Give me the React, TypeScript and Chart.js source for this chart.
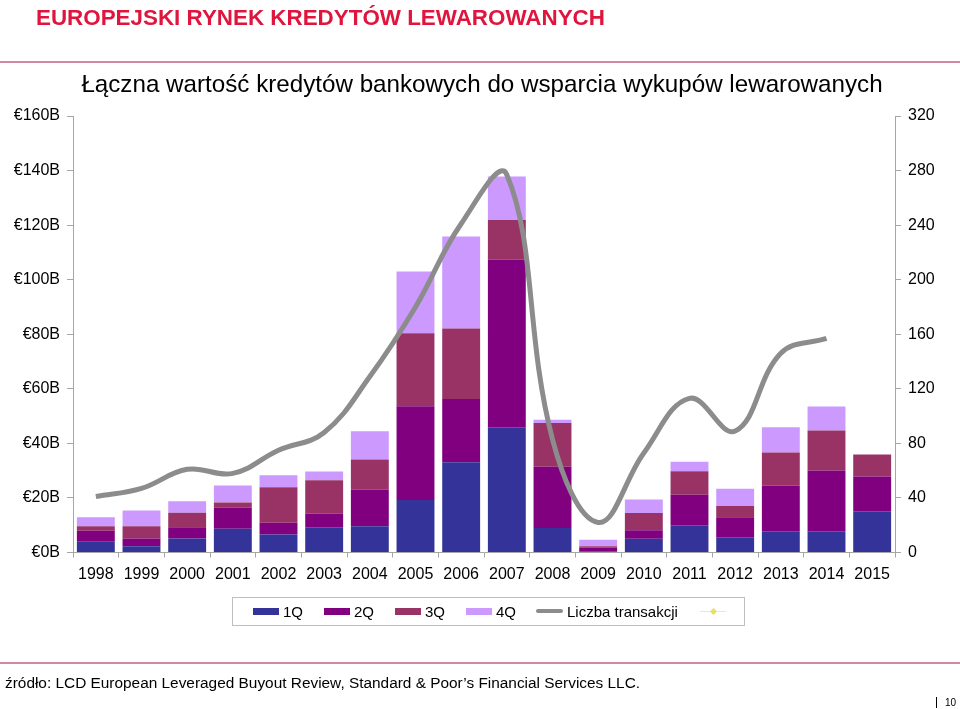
import React, { useEffect, useRef } from "react";
import { Chart, registerables } from "chart.js";

Chart.register(...registerables);

const years = ["1998","1999","2000","2001","2002","2003","2004","2005","2006","2007","2008","2009","2010","2011","2012","2013","2014","2015"];
const q1 = [3.9, 2.3, 5.1, 8.7, 6.6, 9.3, 9.6, 19.2, 33.1, 45.9, 9.0, 0.5, 5.0, 10.0, 5.6, 7.8, 7.8, 15.1];
const q2 = [4.1, 2.8, 4.2, 7.7, 4.3, 4.9, 13.5, 34.4, 23.2, 61.4, 22.4, 1.3, 3.2, 11.2, 7.3, 16.8, 22.3, 12.8];
const q3 = [1.6, 4.5, 5.3, 1.9, 13.0, 12.3, 11.0, 26.8, 25.8, 14.6, 16.1, 0.5, 6.3, 8.6, 4.1, 12.1, 14.6, 8.0];
const q4 = [3.3, 5.8, 4.2, 6.3, 4.4, 3.2, 10.3, 22.6, 33.7, 15.9, 1.2, 2.4, 4.9, 3.5, 6.4, 9.2, 8.8, 0];
const deals = [41, 47, 61, 58, 75, 88, 129, 180, 241, 277, 83, 22, 73, 113, 89, 146, 157, null];

const seriesNames = ["1Q", "2Q", "3Q", "4Q"];
const seriesColors = ["#333399", "#800080", "#993366", "#CC99FF"];
const lineName = "Liczba transakcji";
const lineColor = "#8c8c8c";

const FONT = "'Liberation Sans', Arial, Helvetica, sans-serif";

export default function App() {
  const ref = useRef<HTMLCanvasElement | null>(null);

  useEffect(() => {
    const canvas = ref.current;
    if (!canvas) return;
    const qs = [q1, q2, q3, q4];
    const chart = new Chart(canvas, {
      type: "bar",
      data: {
        labels: years,
        datasets: [
          ...qs.map((d, i) => ({
            type: "bar" as const,
            label: seriesNames[i],
            data: d,
            backgroundColor: seriesColors[i],
            borderWidth: 0,
            yAxisID: "y",
            stack: "s",
            order: 2,
            categoryPercentage: 1,
            barPercentage: 0.83,
          })),
          {
            type: "line" as const,
            label: lineName,
            data: deals,
            borderColor: lineColor,
            backgroundColor: lineColor,
            borderWidth: 5,
            pointRadius: 0,
            tension: 0.4,
            yAxisID: "y1",
            order: 0,
            spanGaps: false,
          },
        ],
      },
      options: {
        responsive: false,
        animation: false,
        maintainAspectRatio: false,
        layout: { padding: { left: 0, right: 0, top: 116, bottom: 126.5 } },
        plugins: {
          legend: { display: false },
          tooltip: { enabled: false },
          title: { display: false },
        },
        scales: {
          x: {
            stacked: true,
            grid: { display: true, drawOnChartArea: false, drawTicks: true, tickLength: 5, color: "#a6a6a6", offset: true },
            border: { color: "#a6a6a6", width: 1 },
            ticks: { color: "#000", font: { family: FONT, size: 16 }, padding: 7, maxRotation: 0, autoSkip: false },
            afterFit: (s: any) => { s.height = 30; },
          },
          y: {
            stacked: true,
            position: "left",
            min: 0,
            max: 160,
            grid: { display: true, drawOnChartArea: false, drawTicks: true, tickLength: 6, color: "#a6a6a6" },
            border: { color: "#a6a6a6", width: 1 },
            ticks: {
              stepSize: 20,
              color: "#000",
              font: { family: FONT, size: 16 },
              padding: 7,
              callback: (v: any) => "\u20AC" + v + "B",
            },
            afterFit: (s: any) => { s.width = 73; },
          },
          y1: {
            position: "right",
            min: 0,
            max: 320,
            grid: { display: true, drawOnChartArea: false, drawTicks: true, tickLength: 6, color: "#a6a6a6" },
            border: { color: "#a6a6a6", width: 1 },
            ticks: { stepSize: 40, color: "#000", font: { family: FONT, size: 16 }, padding: 7 },
            afterFit: (s: any) => { s.width = 65; },
          },
        },
      },
    });
    return () => chart.destroy();
  }, []);

  const legendItems = [
    { x: 253, label: "1Q", color: seriesColors[0], kind: "box" },
    { x: 324, label: "2Q", color: seriesColors[1], kind: "box" },
    { x: 395, label: "3Q", color: seriesColors[2], kind: "box" },
    { x: 466, label: "4Q", color: seriesColors[3], kind: "box" },
    { x: 536, label: lineName, color: lineColor, kind: "line" },
  ];

  return (
    <div style={{ position: "absolute", left: 0, top: 0, width: 960, height: 709, background: "#fff", fontFamily: FONT, overflow: "hidden" }}>
      <canvas ref={ref} width={960} height={709} style={{ position: "absolute", left: 0, top: 0, width: 960, height: 709 }} />
      <div style={{ position: "absolute", left: 36, top: 5, fontSize: 22.4, fontWeight: "bold", color: "#e0143c", whiteSpace: "nowrap", lineHeight: "26px" }}>
        EUROPEJSKI RYNEK KREDYTÓW LEWAROWANYCH
      </div>
      <div style={{ position: "absolute", left: 0, top: 61, width: 960, height: 2, background: "#cf8aa0" }} />
      <div style={{ position: "absolute", left: 60, top: 70, width: 844, textAlign: "center", fontSize: 24.2, color: "#000", whiteSpace: "nowrap", lineHeight: "28px" }}>
        Łączna wartość kredytów bankowych do wsparcia wykupów lewarowanych
      </div>
      <div style={{ position: "absolute", left: 232, top: 597, width: 513, height: 29, border: "1px solid #bfbfbf", boxSizing: "border-box" }} />
      {legendItems.map((it) => (
        <React.Fragment key={it.label}>
          {it.kind === "box" ? (
            <div style={{ position: "absolute", left: it.x, top: 608, width: 26, height: 7, background: it.color }} />
          ) : (
            <div style={{ position: "absolute", left: it.x, top: 609, width: 27, height: 4, borderRadius: 2, background: it.color }} />
          )}
          <div style={{ position: "absolute", left: it.x + (it.kind === "box" ? 30 : 31), top: 603, fontSize: 15, lineHeight: "18px", color: "#000", whiteSpace: "nowrap" }}>
            {it.label}
          </div>
        </React.Fragment>
      ))}
      <div style={{ position: "absolute", left: 700, top: 611, width: 26, height: 1, background: "#f2f08a" }} />
      <div style={{ position: "absolute", left: 711, top: 609, width: 5, height: 5, background: "#e8e060", transform: "rotate(45deg)" }} />
      <div style={{ position: "absolute", left: 0, top: 662, width: 960, height: 2, background: "#cf8aa0" }} />
      <div style={{ position: "absolute", left: 5, top: 673, fontSize: 15.4, color: "#000", whiteSpace: "nowrap", lineHeight: "20px" }}>
        źródło: LCD European Leveraged Buyout Review, Standard &amp; Poor’s Financial Services LLC.
      </div>
      <div style={{ position: "absolute", left: 936, top: 697, width: 1, height: 11, background: "#000" }} />
      <div style={{ position: "absolute", left: 945, top: 697, fontSize: 10, color: "#000", lineHeight: "12px" }}>10</div>
    </div>
  );
}
